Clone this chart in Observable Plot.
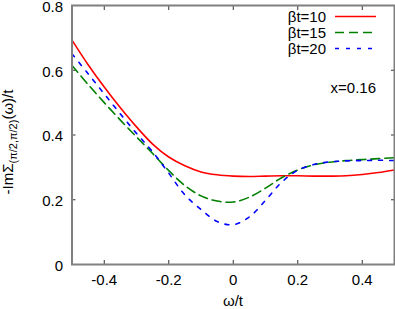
<!DOCTYPE html>
<html><head><meta charset="utf-8">
<script src="https://cdn.jsdelivr.net/npm/d3@7"></script>
<script src="https://cdn.jsdelivr.net/npm/@observablehq/plot@0.6"></script>
<style>html,body{margin:0;padding:0;background:#fff}</style>
</head><body><div id="chart"></div>
<script>
// ω/t grid
const omega = [-0.5,-0.45,-0.4,-0.35,-0.3,-0.25,-0.2,-0.15,-0.1,-0.05,0,0.05,0.1,0.15,0.2,0.25,0.3,0.35,0.4,0.45,0.5];
// -ImΣ(π/2,π/2)(ω)/t
const bt10 = [0.693,0.617,0.548,0.484,0.425,0.372,0.332,0.305,0.286,0.277,0.273,0.272,0.273,0.274,0.274,0.273,0.273,0.274,0.278,0.284,0.292];
const bt15 = [0.615,0.556,0.500,0.446,0.394,0.343,0.290,0.244,0.212,0.196,0.193,0.208,0.236,0.268,0.292,0.308,0.316,0.321,0.324,0.327,0.330];
const bt20 = [0.651,0.589,0.527,0.465,0.405,0.348,0.282,0.215,0.170,0.133,0.123,0.147,0.198,0.254,0.291,0.309,0.317,0.320,0.321,0.322,0.321];
const seriesNames = ["βt=10","βt=15","βt=20"];
const xTicks = [-0.4,-0.2,0,0.2,0.4];
const yTicks = [0,0.2,0.4,0.6,0.8];
const annotation = "x=0.16";

const seriesValues = [bt10, bt15, bt20];
const colors = ["#ff0000","#008000","#0000ff"];
const dashes = [null,"9,5","4,7"];
const tables = seriesValues.map(vals => vals.map((v,i)=>({w:omega[i], v})));

const font = "'Liberation Sans', Arial, Helvetica, sans-serif";
const fs = 15;
const plot = Plot.plot({
  width:395, height:309,
  marginLeft:71.5, marginRight:1, marginTop:5, marginBottom:45,
  style:{fontFamily:font, fontSize:fs+"px", color:"#000", background:"#fff", overflow:"visible"},
  x:{domain:[-0.5,0.5]},
  y:{domain:[0,0.8]},
  marks:[
    Plot.axisX(xTicks,{anchor:"bottom", tickSize:0, tickPadding:10, label:null, tickFormat:d=>String(d), fill:"#000"}),
    Plot.axisX(xTicks,{anchor:"bottom", tickSize:-4, text:null, label:null, stroke:"#333"}),
    Plot.axisX(xTicks,{anchor:"top", tickSize:-4, text:null, label:null, stroke:"#333"}),
    Plot.axisY(yTicks,{anchor:"left", tickSize:0, tickPadding:9, label:null, tickFormat:d=>String(d), fill:"#000", dy:1.5}),
    Plot.axisY([0.2,0.4,0.6],{anchor:"left", tickSize:-4, text:null, label:null, stroke:"#333"}),
    Plot.axisY([0.2,0.4,0.6],{anchor:"right", tickSize:-4, text:null, label:null, stroke:"#333"}),
    ...tables.map((t,k)=>Plot.line(t,{x:"w", y:"v", stroke:colors[k], strokeWidth:1.6, strokeDasharray:dashes[k], curve:"catmull-rom"})),
    Plot.frame({stroke:"#808080", strokeWidth:2})
  ]
});
document.getElementById("chart").appendChild(plot);

const svg = d3.select(plot);
// legend
seriesNames.forEach((name,k)=>{
  const y = 16.5 + k*16;
  svg.append("text").attr("x",326).attr("y",y+5.5).attr("text-anchor","end")
    .attr("font-family",font).attr("font-size",fs).attr("fill","#000").text(name);
  svg.append("line").attr("x1",335).attr("x2",376).attr("y1",y).attr("y2",y)
    .attr("stroke",colors[k]).attr("stroke-width",1.6).attr("stroke-dasharray",dashes[k]);
});
svg.append("text").attr("x",376).attr("y",93).attr("text-anchor","end")
  .attr("font-family",font).attr("font-size",fs).attr("fill","#000").text(annotation);
// axis labels
svg.append("text").attr("x",233).attr("y",306).attr("text-anchor","middle")
  .attr("font-family",font).attr("font-size",fs).attr("fill","#000").text("ω/t");
const yl = svg.append("text").attr("transform","translate(13,142) rotate(-90)").attr("text-anchor","middle")
  .attr("font-family",font).attr("font-size",fs).attr("fill","#000");
yl.append("tspan").text("-ImΣ");
yl.append("tspan").attr("font-size",11).attr("dy",4).text("(π/2,π/2)");
yl.append("tspan").attr("dy",-4).text("(ω)/t");
</script>
</body></html>
